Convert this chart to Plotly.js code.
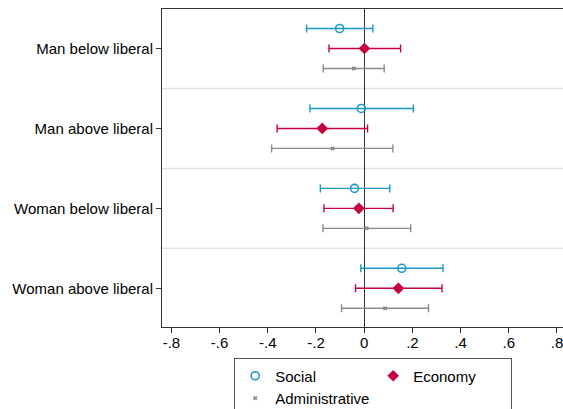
<!DOCTYPE html>
<html>
<head>
<meta charset="utf-8">
<script src="https://cdn.plot.ly/plotly-3.0.1.min.js"></script>
<style>
  html, body { margin: 0; padding: 0; background: #fff; }
  #chart { width: 563px; height: 409px; }
</style>
</head>
<body>
<div id="chart"></div>
<script>
// Categories (top to bottom)
const categories = ["Man below liberal", "Man above liberal", "Woman below liberal", "Woman above liberal"];

// Social
const socialEst = [-0.102, -0.012, -0.040, 0.156];
const socialLo  = [-0.239, -0.225, -0.182, -0.014];
const socialHi  = [ 0.036,  0.204,  0.106,  0.327];

// Economy
const economyEst = [ 0.001, -0.174, -0.022, 0.142];
const economyLo  = [-0.146, -0.361, -0.167, -0.036];
const economyHi  = [ 0.151,  0.014,  0.120,  0.323];

// Administrative
const adminEst = [-0.043, -0.131, 0.010, 0.087];
const adminLo  = [-0.170, -0.384, -0.171, -0.094];
const adminHi  = [ 0.083,  0.119,  0.193,  0.267];

// X tick labels
const xTickVals = [-0.8, -0.6, -0.4, -0.2, 0, 0.2, 0.4, 0.6, 0.8];
const xTickText = ["-.8", "-.6", "-.4", "-.2", "0", ".2", ".4", ".6", ".8"];

const catPos = categories.map((c, i) => i + 1);

function makeTrace(name, est, lo, hi, offset, color, marker) {
  return {
    type: "scatter",
    mode: "markers",
    name: name,
    x: est,
    y: catPos.map(p => p + offset),
    error_x: {
      type: "data",
      symmetric: false,
      array: hi.map((h, i) => h - est[i]),
      arrayminus: lo.map((l, i) => est[i] - l),
      color: color,
      thickness: 1.4,
      width: 4
    },
    marker: marker,
    hoverinfo: "x+name"
  };
}

const traces = [
  makeTrace("Social", socialEst, socialLo, socialHi, -0.25, "#1a9ac9",
    { symbol: "circle-open", size: 8, color: "#1a9ac9", line: { width: 1.6, color: "#1a9ac9" } }),
  makeTrace("Economy", economyEst, economyLo, economyHi, 0, "#c8003c",
    { symbol: "diamond", size: 9, color: "#c8003c" }),
  makeTrace("Administrative", adminEst, adminLo, adminHi, 0.25, "#8a8a8a",
    { symbol: "x", size: 4, color: "#8a8a8a" })
];

const separators = catPos.slice(0, -1).map(p => ({
  type: "line", xref: "paper", x0: 0, x1: 1, yref: "y", y0: p + 0.5, y1: p + 0.5,
  line: { color: "#e3e3e3", width: 1.5 }, layer: "below"
}));

const layout = {
  width: 563,
  height: 409,
  margin: { l: 162, r: 0, t: 9, b: 82, autoexpand: false },
  paper_bgcolor: "#ffffff",
  plot_bgcolor: "#ffffff",
  font: { family: "Liberation Sans, Arial, Helvetica, sans-serif", size: 15, color: "#000" },
  showlegend: true,
  legend: {
    orientation: "h",
    x: 0.18, xanchor: "left",
    y: -0.099, yanchor: "top",
    entrywidth: 93,
    bordercolor: "#555",
    borderwidth: 1,
    bgcolor: "#fff",
    font: { size: 15 },
    tracegroupgap: 0
  },
  xaxis: {
    range: [-0.839, 0.825],
    tickvals: xTickVals,
    ticktext: xTickText,
    ticks: "outside",
    ticklen: 5,
    tickcolor: "#333",
    ticklabeloverflow: "allow",
    ticklabelstandoff: -3,
    showgrid: false,
    zeroline: true,
    zerolinecolor: "#333",
    zerolinewidth: 1.3,
    showline: true,
    linecolor: "#333",
    linewidth: 1,
    mirror: true,
    fixedrange: true
  },
  yaxis: {
    range: [4.484, 0.506],
    tickvals: catPos,
    ticktext: categories,
    ticks: "outside",
    ticklen: 5,
    tickcolor: "#333",
    showgrid: false,
    zeroline: false,
    showline: true,
    linecolor: "#333",
    linewidth: 1,
    mirror: true,
    fixedrange: true
  },
  shapes: separators
};

Plotly.newPlot("chart", traces, layout, { displayModeBar: false, staticPlot: true });
</script>
</body>
</html>
